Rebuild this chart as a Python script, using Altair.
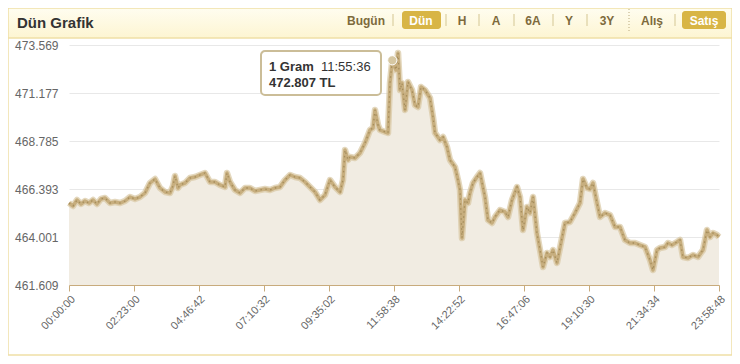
import altair as alt
import pandas as pd

# ---- data ----
time_minutes = [0, 8.9, 17.7, 26.6, 35.4, 44.3, 53.1, 62.0, 70.8, 79.7, 90.8, 101.8, 112.9, 124.0, 135.0,
    146.1, 157.1, 168.2, 179.3, 190.4, 201.4, 212.5, 223.6, 230.2, 234.6, 241.3, 245.7, 256.8, 267.8,
    278.9, 290.0, 301.0, 312.1, 323.2, 334.2, 345.3, 349.7, 356.4, 367.4, 378.5, 389.6, 400.6, 411.7,
    422.8, 433.9, 444.9, 456.0, 467.1, 478.1, 489.2, 500.3, 511.3, 522.4, 533.5, 544.5, 555.6, 566.7,
    577.7, 588.8, 599.9, 606.5, 610.9, 617.6, 622.0, 633.1, 644.1, 655.2, 666.3, 672.9, 677.3, 684.0,
    688.4, 699.5, 706.1, 710.5, 715.6, 723.8, 728.3, 732.7, 737.1, 743.8, 750.4, 759.2, 765.9, 772.5,
    779.2, 788.0, 799.1, 805.7, 810.2, 821.2, 827.9, 836.7, 843.4, 854.4, 861.1, 865.5, 869.9, 876.6,
    883.2, 887.6, 894.3, 903.1, 909.8, 920.8, 927.5, 936.3, 943.0, 954.0, 965.1, 971.8, 980.6, 991.7,
    998.3, 1004.9, 1013.8, 1020.4, 1027.1, 1035.9, 1042.6, 1049.2, 1058.1, 1064.7, 1071.4, 1080.2,
    1086.8, 1097.9, 1109.0, 1120.0, 1131.1, 1137.8, 1146.6, 1153.3, 1159.9, 1168.8, 1175.4, 1186.5,
    1197.5, 1208.6, 1219.7, 1230.7, 1241.8, 1252.9, 1263.9, 1275.0, 1286.1, 1292.7, 1301.6, 1308.2,
    1319.3, 1325.9, 1334.8, 1345.8, 1352.5, 1359.1, 1370.2, 1381.2, 1392.3, 1403.4, 1412.2, 1418.9,
    1425.5, 1434.4, 1438.8]
prices = [465.695, 465.546, 465.845, 465.646, 465.795, 465.695, 465.845, 465.646, 465.895, 465.945,
    465.695, 465.745, 465.695, 465.795, 465.994, 465.895, 465.994, 466.194, 466.692, 466.891, 466.443,
    466.244, 466.194, 466.543, 467.041, 466.443, 466.593, 466.692, 466.941, 466.991, 467.091, 467.190,
    466.742, 466.742, 466.593, 466.493, 467.190, 466.742, 466.343, 466.194, 466.443, 466.443, 466.294,
    466.343, 466.393, 466.343, 466.443, 466.493, 466.842, 467.091, 466.991, 466.941, 466.742, 466.493,
    466.244, 465.845, 466.094, 466.842, 466.493, 466.244, 466.842, 468.337, 467.838, 467.988, 467.938,
    468.187, 468.685, 469.333, 469.433, 470.330, 469.582, 469.333, 469.234, 469.184, 471.675, 472.807,
    472.323, 473.170, 471.327, 471.675, 470.330, 471.725, 471.327, 470.579, 470.479, 471.476, 471.327,
    470.928, 469.981, 469.184, 468.835, 468.985, 468.486, 467.838, 467.489, 466.842, 466.343, 463.951,
    465.845, 465.695, 466.194, 466.692, 466.991, 467.190, 465.994, 464.848, 464.699, 464.998, 465.346,
    465.247, 464.998, 465.845, 466.493, 465.994, 464.350, 465.496, 465.197, 465.994, 464.200, 463.353,
    462.506, 463.204, 463.005, 463.353, 462.706, 463.453, 464.699, 464.748, 465.197, 465.695, 466.891,
    466.443, 466.393, 466.692, 465.695, 464.998, 465.197, 465.097, 464.499, 464.499, 463.851, 463.702,
    463.702, 463.602, 463.503, 462.855, 462.357, 463.353, 463.453, 463.503, 463.702, 463.602, 463.752,
    463.851, 463.005, 462.955, 463.104, 463.005, 463.353, 464.350, 463.999, 464.200, 464.100, 464.001]

y_ticks = [461.609, 464.001, 466.393, 468.785, 471.177, 473.569]
x_tick_labels = ["00:00:00", "02:23:00", "04:46:42", "07:10:32", "09:35:02", "11:58:38",
                 "14:22:52", "16:47:06", "19:10:30", "21:34:34", "23:58:48"]

highlight_minutes = [715.6]
highlight_price = [472.807]
highlight_label = ["11:55:36"]

title_text = "Dün Grafik"
buttons = ["Bugün", "Dün", "H", "A", "6A", "Y", "3Y", "Alış", "Satış"]
buttons_active = ["Dün", "Satış"]


def to_ms(hms):
    h, m, s = [int(p) for p in hms.split(":")]
    return (h * 3600 + m * 60 + s) * 1000


df = pd.DataFrame({"t": [m * 60000 for m in time_minutes], "price": prices})
hl = pd.DataFrame({"t": [m * 60000 for m in highlight_minutes], "price": highlight_price})
x_vals = [to_ms(s) for s in x_tick_labels]

W, H = 650, 240
FONT = "Liberation Sans"

x_enc = alt.X("t:Q", scale=alt.Scale(domain=[0, x_vals[-1]], nice=False, zero=False),
              axis=alt.Axis(values=x_vals, labelExpr="utcFormat(datum.value, '%H:%M:%S')",
                            labelAngle=-45, labelFontSize=11, labelColor="#666666", labelFont=FONT,
                            domainColor="#c8ab7c", tickColor="#c8ab7c", tickSize=6, grid=False,
                            title=None, labelPadding=2))
y_enc = alt.Y("price:Q", scale=alt.Scale(domain=[y_ticks[0], y_ticks[-1]], nice=False, zero=False),
              axis=alt.Axis(values=y_ticks, format=".3f", ticks=False, domain=False,
                            labelFontSize=12, labelColor="#666666", labelFont=FONT, labelPadding=11,
                            gridColor="#e8e8e8", title=None))

base = alt.Chart(df)
area = base.mark_area(color="#f1ece2").encode(x=x_enc, y=y_enc, y2=alt.Y2(datum=y_ticks[0]))
line_halo = base.mark_line(color="#d8c8a2", strokeWidth=6.5, opacity=0.7, strokeJoin="round").encode(
    x="t:Q", y="price:Q")
line_band = base.mark_line(color="#c7ae7e", strokeWidth=3.5, strokeJoin="round").encode(x="t:Q", y="price:Q")
line_dots = base.mark_line(color="#a58d5c", strokeWidth=1.3, strokeDash=[1.5, 3.5]).encode(x="t:Q", y="price:Q")

point = alt.Chart(hl).mark_circle(size=85, color="#d6c7a2", opacity=1, stroke="white", strokeWidth=1).encode(
    x="t:Q", y="price:Q")

one = alt.Data(values=[{}])


def box(x, x2, y, y2, **kw):
    return alt.Chart(one).mark_rect(**kw).encode(
        x=alt.value(x), x2=alt.value(x2), y=alt.value(y), y2=alt.value(y2))


def txt(text, x, y, **kw):
    return alt.Chart(one).mark_text(text=text, **kw).encode(x=alt.value(x), y=alt.value(y))


def vline(x, y, y2, **kw):
    return alt.Chart(one).mark_rule(**kw).encode(x=alt.value(x), y=alt.value(y), y2=alt.value(y2))


# card frame and header (plot origin is at page x=69, y=45)
card = box(-61, 663, -37, 310, fill=None, stroke="#efdfa6", strokeWidth=1.5)
header = box(-61, 663, -37, -7,
             fill=alt.LinearGradient(gradient="linear", x1=0, y1=0, x2=0, y2=1,
                                     stops=[alt.GradientStop(color="#fffdf0", offset=0),
                                            alt.GradientStop(color="#fdf5d2", offset=1)]),
             stroke="#efdfa6", strokeWidth=1.5)
title = txt(title_text, -52, -22, font=FONT, fontSize=15, fontWeight="bold", color="#333333",
            align="left", baseline="middle")

btn_x = [297, 352, 393, 427, 464, 500, 538, 583, 635]
active_boxes = [box(333, 372, -34, -16, fill="#d8b545", cornerRadius=3),
                box(613, 657, -34, -16, fill="#d8b545", cornerRadius=3)]
btn_texts = []
for label, bx in zip(buttons, btn_x):
    active = label in buttons_active
    btn_texts.append(txt(label, bx, -24.5, font=FONT, fontSize=12, fontWeight="bold",
                         color="#ffffff" if active else "#7d6a3c", align="center", baseline="middle"))
seps = [vline(sx, -31, -19, color="#e2d7ae", strokeWidth=1.5) for sx in [324, 377, 410, 445, 484, 518, 606]]
dotted = vline(560, -36, -14, color="#b9a97c", strokeWidth=1, strokeDash=[1, 2])

# tooltip box
tip_box = box(192, 312, 6, 50, fill="white", stroke="#cbbd98", strokeWidth=2, cornerRadius=4)
tip1 = txt("1 Gram", 200, 21.5, font=FONT, fontSize=13, fontWeight="bold", color="#333333",
           align="left", baseline="middle")
tip2 = txt(highlight_label[0], 252, 21.5, font=FONT, fontSize=13, color="#333333",
           align="left", baseline="middle")
tip3 = txt(f"{highlight_price[0]:.3f} TL", 200, 37.5, font=FONT, fontSize=13, fontWeight="bold",
           color="#333333", align="left", baseline="middle")

chart = alt.layer(
    card, header, title, *active_boxes, *btn_texts, *seps, dotted,
    area, line_halo, line_band, line_dots, point, tip_box, tip1, tip2, tip3,
).properties(
    width=W, height=H,
    autosize=alt.AutoSizeParams(type="none"),
    padding={"left": 61, "top": 37, "right": 13, "bottom": 71},
    background="white",
).configure_view(stroke=None)

chart.save("out.html", embed_options={"renderer": "svg", "actions": False})
